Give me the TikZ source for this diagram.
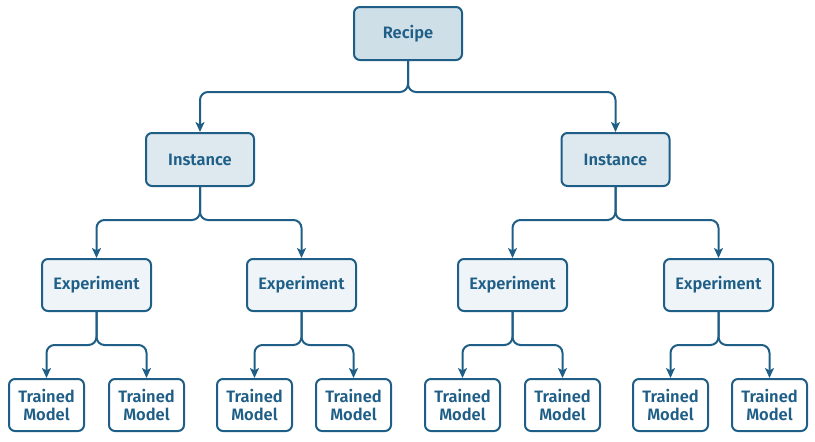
\documentclass[tikz,border=0pt]{standalone}
\usepackage{fontspec}
\setmainfont{Fira Sans}[BoldFont={Fira Sans SemiBold}]
\usetikzlibrary{arrows.meta}
\definecolor{ink}{RGB}{31,95,135}
\definecolor{fillA}{RGB}{207,223,232}
\definecolor{fillB}{RGB}{221,232,239}
\definecolor{fillC}{RGB}{238,244,247}
\begin{document}
\begin{tikzpicture}[x=1pt,y=-1pt,
  box/.style={draw=ink,line width=2pt,rounded corners=6pt,text=ink,
    font=\fontsize{16.5}{17.5}\selectfont\bfseries,align=center,inner sep=0pt},
  recipebox/.style={box,fill=fillA,minimum width=108pt,minimum height=53pt},
  instbox/.style={box,fill=fillB,minimum width=108pt,minimum height=53pt},
  expbox/.style={box,fill=fillC,minimum width=109pt,minimum height=52pt},
  tmbox/.style={box,fill=white,minimum width=75pt,minimum height=52pt},
  link/.style={draw=ink,line width=2pt,rounded corners=8pt,
    -{Stealth[length=10pt,width=9pt,inset=2.5pt]}}]
\useasboundingbox (0,0) rectangle (815,442);
\node[recipebox] (r) at (408,33.5) {Recipe};
\node[instbox] (i1) at (200,159.5) {Instance};
\node[instbox] (i2) at (615.5,159.5) {Instance};
\node[expbox] (e1) at (96.5,285) {Experiment};
\node[expbox] (e2) at (301.5,285) {Experiment};
\node[expbox] (e3) at (512.5,285) {Experiment};
\node[expbox] (e4) at (718.5,285) {Experiment};
\foreach \n/\x in {t1/46.5,t2/146.5,t3/254.5,t4/353.5,t5/462.5,t6/562.5,t7/670.5,t8/769.5}
  \node[tmbox] (\n) at (\x,405) {Trained\\Model};
\foreach \p/\c/\y in {r/i1/92,r/i2/92,i1/e1/220,i1/e2/220,i2/e3/220,i2/e4/220,
  e1/t1/345,e1/t2/345,e2/t3/345,e2/t4/345,e3/t5/345,e3/t6/345,e4/t7/345,e4/t8/345}
  \draw[link] (\p.south) |- (\c.north |- 0,\y) -- (\c.north);
\end{tikzpicture}
\end{document}
